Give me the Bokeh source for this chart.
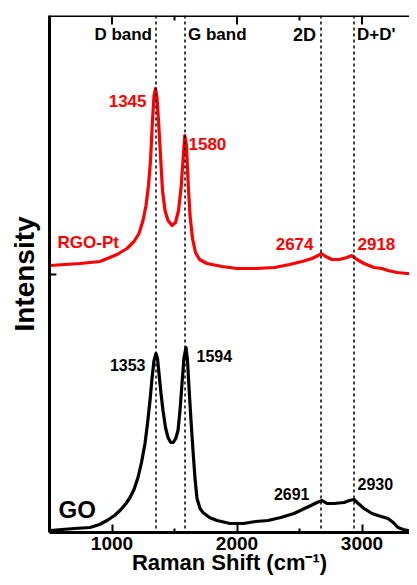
from bokeh.plotting import figure
from bokeh.models import Range1d, FixedTicker, Span
from bokeh.core.properties import value
from bokeh.embed import file_html
from bokeh.resources import INLINE

# ---------------- data ----------------
# Raman shift (cm^-1) and intensity (arbitrary units) for RGO-Pt
rgo_shift = [504, 744, 904, 1040, 1120, 1176, 1216, 1248, 1272, 1292, 1308, 1322, 1336,
             1348, 1360, 1372, 1388, 1404, 1424, 1448, 1480, 1508, 1532, 1552, 1568,
             1582, 1596, 1610, 1624, 1644, 1668, 1700, 1760, 1880, 2000, 2150, 2300,
             2420, 2520, 2600, 2650, 2674, 2710, 2760, 2820, 2880, 2918, 2960, 3016,
             3096, 3160, 3208, 3280, 3360, 3444]
rgo_int = [267, 269, 271, 278, 284, 291, 299, 312, 327, 347, 372, 407, 437,
           444, 435, 412, 377, 342, 322, 312, 307, 310, 322, 344, 372,
           397, 387, 347, 317, 294, 280, 273, 269, 266, 264, 264, 265,
           268, 271, 274, 277, 279, 276, 273, 273, 275, 277, 273, 269,
           265, 264, 262, 260, 259, 259]

# GO
go_shift = [504, 600, 700, 824, 900, 960, 1020, 1064, 1112, 1144, 1176, 1208, 1236,
            1264, 1284, 1304, 1320, 1336, 1352, 1364, 1376, 1392, 1408, 1428, 1448,
            1470, 1490, 1510, 1528, 1544, 1560, 1576, 1592, 1604, 1616, 1632, 1648,
            1664, 1680, 1704, 1728, 1780, 1840, 1944, 2050, 2150, 2248, 2350, 2456,
            2540, 2592, 2640, 2680, 2720, 2776, 2856, 2900, 2936, 2970, 3016, 3080,
            3128, 3180, 3208, 3250, 3288, 3330, 3368, 3444]
go_int = [2, 3, 4, 5, 8, 12, 17, 22, 29, 35, 43, 55, 70,
          89, 109, 132, 154, 172, 179, 174, 159, 139, 122, 105, 95,
          90, 90, 94, 102, 122, 149, 175, 185, 172, 145, 112, 82,
          54, 34, 24, 20, 15, 12, 9, 9, 11, 12, 15, 19,
          24, 27, 30, 32, 29, 29, 30, 32, 33, 29, 24, 19,
          17, 15, 14, 10, 5, 3, 2, 2]

# band marker positions and names
band_pos = [1352, 1584, 2672, 2936]
band_names = ["D band", "G band", "2D", "D+D'"]

# peak labels
rgo_peaks = ["1345", "1580", "2674", "2918"]
go_peaks = ["1353", "1594", "2691", "2930"]

x_major_ticks = [1000, 2000, 3000]
x_minor_ticks = [1500, 2500]
y_ticks = [258]

X_START, X_END = 500, 3380
Y_START, Y_END = 0, 517

FONT = "Liberation Sans"
RED = "#ff0000"

p = figure(width=409, height=577, output_backend="svg", toolbar_location=None,
           x_range=Range1d(X_START, X_END), y_range=Range1d(Y_START, Y_END),
           min_border_left=49, min_border_right=0, min_border_top=15,
           min_border_bottom=45)
p.outline_line_color = None
p.xgrid.visible = False
p.ygrid.visible = False

# bottom axis
xa = p.xaxis[0]
xa.ticker = FixedTicker(ticks=x_major_ticks, minor_ticks=x_minor_ticks)
xa.axis_line_width = 3
xa.major_tick_in = 8
xa.major_tick_out = 0
xa.minor_tick_in = 4
xa.minor_tick_out = 0
xa.major_tick_line_width = 2
xa.minor_tick_line_width = 2
xa.major_label_text_font = FONT
xa.major_label_text_font_style = "bold"
xa.major_label_text_font_size = "19px"
xa.major_label_text_color = "black"
xa.major_label_standoff = 4
xa.axis_label = "Raman Shift (cm⁻¹)"
xa.axis_label_text_font = FONT
xa.axis_label_text_font_style = "bold"
xa.axis_label_text_font_size = "22px"
xa.axis_label_text_color = "black"
xa.axis_label_standoff = -3

# left axis (line + title only)
ya = p.yaxis[0]
ya.ticker = FixedTicker(ticks=[])
ya.axis_line_width = 3
ya.major_tick_in = 0
ya.major_tick_out = 0
ya.minor_tick_in = 0
ya.minor_tick_out = 0
ya.axis_label = "Intensity"
ya.axis_label_text_font = FONT
ya.axis_label_text_font_style = "bold"
ya.axis_label_text_font_size = "28px"
ya.axis_label_text_color = "black"
ya.axis_label_standoff = 10

# top frame line and inward ticks
p.add_layout(Span(location=Y_END, dimension="width", line_color="black", line_width=3))
p.segment(x0=x_major_ticks, x1=x_major_ticks, y0=[Y_END] * 3, y1=[Y_END - 9] * 3,
          line_color="black", line_width=2)
p.segment(x0=x_minor_ticks, x1=x_minor_ticks, y0=[Y_END] * 2, y1=[Y_END - 5] * 2,
          line_color="black", line_width=2)
# left inward tick
p.segment(x0=[X_START] * len(y_ticks), x1=[X_START + 55] * len(y_ticks),
          y0=y_ticks, y1=y_ticks, line_color="black", line_width=2)

# spectra
p.line(rgo_shift, rgo_int, line_color=RED, line_width=3.2, line_join="round")
p.line(go_shift, go_int, line_color="black", line_width=3.2, line_join="round")

# band dashed lines
for loc in band_pos:
    p.add_layout(Span(location=loc, dimension="height", line_color="black",
                      line_dash="3 3", line_width=1.5))


def label(x, y, text, color, size, align, dx=0):
    p.text(x=[x], y=[y], text=[text], text_color=color, text_font=value(FONT),
           text_font_style="bold", text_font_size=size, text_align=align,
           text_baseline="middle", x_offset=dx)


# band names
label(band_pos[0], 498, band_names[0], "black", "17px", "right", -4)
label(band_pos[1], 498, band_names[1], "black", "17px", "left", 3)
label(band_pos[2], 498, band_names[2], "black", "18px", "right", -5)
label(band_pos[3], 498, band_names[3], "black", "17px", "left", 3)

# RGO-Pt labels
label(1276, 432, rgo_peaks[0], RED, "17px", "right")
label(1612, 389, rgo_peaks[1], RED, "17px", "left")
label(2612, 289, rgo_peaks[2], RED, "17px", "right")
label(2964, 289, rgo_peaks[3], RED, "17px", "left")
label(564, 290, "RGO-Pt", RED, "17px", "left")

# GO labels
label(1268, 168, go_peaks[0], "black", "16px", "right")
label(1676, 177, go_peaks[1], "black", "16px", "left")
label(2580, 39, go_peaks[2], "black", "16px", "right")
label(2964, 49, go_peaks[3], "black", "16px", "left")
label(572, 23, "GO", "black", "24px", "left")

open("out.html", "w").write(file_html(p, INLINE))
